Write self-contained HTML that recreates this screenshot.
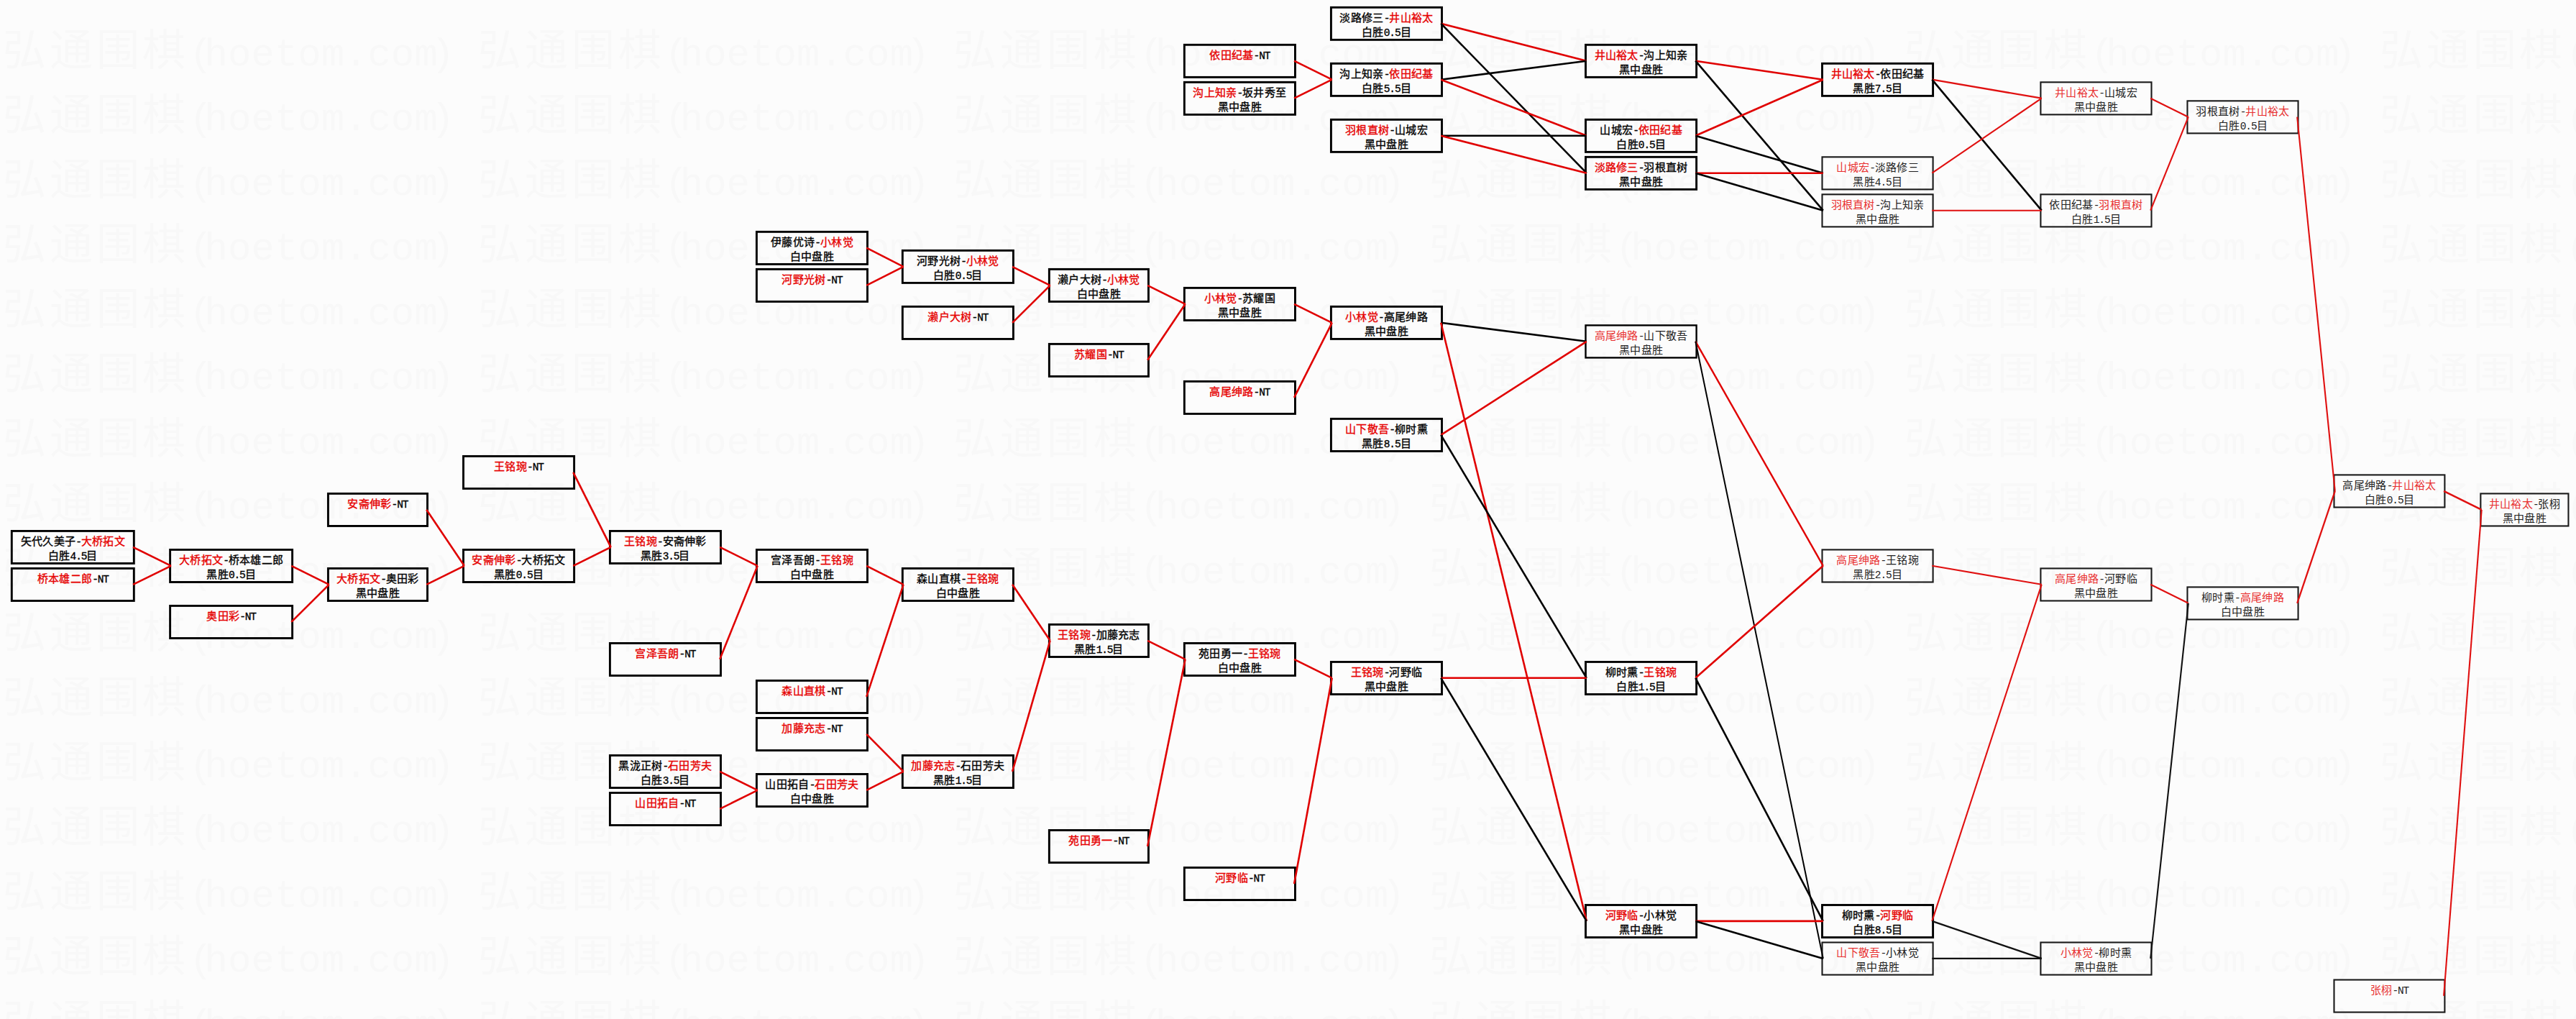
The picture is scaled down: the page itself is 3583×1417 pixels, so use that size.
<!DOCTYPE html>
<html lang="zh-CN"><head><meta charset="utf-8"><title>bracket</title>
<style>
html,body{margin:0;padding:0;}
body{width:3583px;height:1417px;overflow:hidden;background:#fcfcfc;position:relative;font-family:"Liberation Serif",serif;}
#wm{position:absolute;left:0;top:0;width:3583px;height:1417px;overflow:hidden;color:#f8f8f8;font-size:60px;letter-spacing:4.8px;line-height:70px;white-space:nowrap;}
#wm div{position:absolute;left:4px;white-space:nowrap;height:70px;}
#wm span.u{display:inline-block;width:661.2px;}
#wm span.l{font-family:"Liberation Mono",monospace;font-size:54px;letter-spacing:0;}
#wm span.m{margin-left:-11px;}
#wm span.p{margin-left:-9px;}
svg{position:absolute;left:0;top:0;}
.b{position:absolute;text-align:center;font-size:15px;letter-spacing:.3px;line-height:20px;color:#000;white-space:nowrap;height:40px;}
.b{-webkit-text-stroke:.35px currentColor;}
.b i{-webkit-text-stroke:.35px #e60000;}
.b.t,.b.t i{-webkit-text-stroke:0;}
.b.t{color:#222;}
.b i{font-style:normal;color:#e60000;}
.b.t i{color:#e83030;}
.b u{font-family:"Liberation Mono",monospace;font-size:14.5px;letter-spacing:-1.1px;line-height:0;text-decoration:none;}
</style></head><body>
<div id="wm">
<div style="top:35.5px"><span class="u">弘通围棋<span class="l">(<span class="m">hoetom.com</span><span class="p">)</span></span></span><span class="u">弘通围棋<span class="l">(<span class="m">hoetom.com</span><span class="p">)</span></span></span><span class="u">弘通围棋<span class="l">(<span class="m">hoetom.com</span><span class="p">)</span></span></span><span class="u">弘通围棋<span class="l">(<span class="m">hoetom.com</span><span class="p">)</span></span></span><span class="u">弘通围棋<span class="l">(<span class="m">hoetom.com</span><span class="p">)</span></span></span><span class="u">弘通围棋<span class="l">(<span class="m">hoetom.com</span><span class="p">)</span></span></span></div>
<div style="top:125.5px"><span class="u">弘通围棋<span class="l">(<span class="m">hoetom.com</span><span class="p">)</span></span></span><span class="u">弘通围棋<span class="l">(<span class="m">hoetom.com</span><span class="p">)</span></span></span><span class="u">弘通围棋<span class="l">(<span class="m">hoetom.com</span><span class="p">)</span></span></span><span class="u">弘通围棋<span class="l">(<span class="m">hoetom.com</span><span class="p">)</span></span></span><span class="u">弘通围棋<span class="l">(<span class="m">hoetom.com</span><span class="p">)</span></span></span><span class="u">弘通围棋<span class="l">(<span class="m">hoetom.com</span><span class="p">)</span></span></span></div>
<div style="top:215.5px"><span class="u">弘通围棋<span class="l">(<span class="m">hoetom.com</span><span class="p">)</span></span></span><span class="u">弘通围棋<span class="l">(<span class="m">hoetom.com</span><span class="p">)</span></span></span><span class="u">弘通围棋<span class="l">(<span class="m">hoetom.com</span><span class="p">)</span></span></span><span class="u">弘通围棋<span class="l">(<span class="m">hoetom.com</span><span class="p">)</span></span></span><span class="u">弘通围棋<span class="l">(<span class="m">hoetom.com</span><span class="p">)</span></span></span><span class="u">弘通围棋<span class="l">(<span class="m">hoetom.com</span><span class="p">)</span></span></span></div>
<div style="top:305.5px"><span class="u">弘通围棋<span class="l">(<span class="m">hoetom.com</span><span class="p">)</span></span></span><span class="u">弘通围棋<span class="l">(<span class="m">hoetom.com</span><span class="p">)</span></span></span><span class="u">弘通围棋<span class="l">(<span class="m">hoetom.com</span><span class="p">)</span></span></span><span class="u">弘通围棋<span class="l">(<span class="m">hoetom.com</span><span class="p">)</span></span></span><span class="u">弘通围棋<span class="l">(<span class="m">hoetom.com</span><span class="p">)</span></span></span><span class="u">弘通围棋<span class="l">(<span class="m">hoetom.com</span><span class="p">)</span></span></span></div>
<div style="top:395.5px"><span class="u">弘通围棋<span class="l">(<span class="m">hoetom.com</span><span class="p">)</span></span></span><span class="u">弘通围棋<span class="l">(<span class="m">hoetom.com</span><span class="p">)</span></span></span><span class="u">弘通围棋<span class="l">(<span class="m">hoetom.com</span><span class="p">)</span></span></span><span class="u">弘通围棋<span class="l">(<span class="m">hoetom.com</span><span class="p">)</span></span></span><span class="u">弘通围棋<span class="l">(<span class="m">hoetom.com</span><span class="p">)</span></span></span><span class="u">弘通围棋<span class="l">(<span class="m">hoetom.com</span><span class="p">)</span></span></span></div>
<div style="top:485.5px"><span class="u">弘通围棋<span class="l">(<span class="m">hoetom.com</span><span class="p">)</span></span></span><span class="u">弘通围棋<span class="l">(<span class="m">hoetom.com</span><span class="p">)</span></span></span><span class="u">弘通围棋<span class="l">(<span class="m">hoetom.com</span><span class="p">)</span></span></span><span class="u">弘通围棋<span class="l">(<span class="m">hoetom.com</span><span class="p">)</span></span></span><span class="u">弘通围棋<span class="l">(<span class="m">hoetom.com</span><span class="p">)</span></span></span><span class="u">弘通围棋<span class="l">(<span class="m">hoetom.com</span><span class="p">)</span></span></span></div>
<div style="top:575.5px"><span class="u">弘通围棋<span class="l">(<span class="m">hoetom.com</span><span class="p">)</span></span></span><span class="u">弘通围棋<span class="l">(<span class="m">hoetom.com</span><span class="p">)</span></span></span><span class="u">弘通围棋<span class="l">(<span class="m">hoetom.com</span><span class="p">)</span></span></span><span class="u">弘通围棋<span class="l">(<span class="m">hoetom.com</span><span class="p">)</span></span></span><span class="u">弘通围棋<span class="l">(<span class="m">hoetom.com</span><span class="p">)</span></span></span><span class="u">弘通围棋<span class="l">(<span class="m">hoetom.com</span><span class="p">)</span></span></span></div>
<div style="top:665.5px"><span class="u">弘通围棋<span class="l">(<span class="m">hoetom.com</span><span class="p">)</span></span></span><span class="u">弘通围棋<span class="l">(<span class="m">hoetom.com</span><span class="p">)</span></span></span><span class="u">弘通围棋<span class="l">(<span class="m">hoetom.com</span><span class="p">)</span></span></span><span class="u">弘通围棋<span class="l">(<span class="m">hoetom.com</span><span class="p">)</span></span></span><span class="u">弘通围棋<span class="l">(<span class="m">hoetom.com</span><span class="p">)</span></span></span><span class="u">弘通围棋<span class="l">(<span class="m">hoetom.com</span><span class="p">)</span></span></span></div>
<div style="top:755.5px"><span class="u">弘通围棋<span class="l">(<span class="m">hoetom.com</span><span class="p">)</span></span></span><span class="u">弘通围棋<span class="l">(<span class="m">hoetom.com</span><span class="p">)</span></span></span><span class="u">弘通围棋<span class="l">(<span class="m">hoetom.com</span><span class="p">)</span></span></span><span class="u">弘通围棋<span class="l">(<span class="m">hoetom.com</span><span class="p">)</span></span></span><span class="u">弘通围棋<span class="l">(<span class="m">hoetom.com</span><span class="p">)</span></span></span><span class="u">弘通围棋<span class="l">(<span class="m">hoetom.com</span><span class="p">)</span></span></span></div>
<div style="top:845.5px"><span class="u">弘通围棋<span class="l">(<span class="m">hoetom.com</span><span class="p">)</span></span></span><span class="u">弘通围棋<span class="l">(<span class="m">hoetom.com</span><span class="p">)</span></span></span><span class="u">弘通围棋<span class="l">(<span class="m">hoetom.com</span><span class="p">)</span></span></span><span class="u">弘通围棋<span class="l">(<span class="m">hoetom.com</span><span class="p">)</span></span></span><span class="u">弘通围棋<span class="l">(<span class="m">hoetom.com</span><span class="p">)</span></span></span><span class="u">弘通围棋<span class="l">(<span class="m">hoetom.com</span><span class="p">)</span></span></span></div>
<div style="top:935.5px"><span class="u">弘通围棋<span class="l">(<span class="m">hoetom.com</span><span class="p">)</span></span></span><span class="u">弘通围棋<span class="l">(<span class="m">hoetom.com</span><span class="p">)</span></span></span><span class="u">弘通围棋<span class="l">(<span class="m">hoetom.com</span><span class="p">)</span></span></span><span class="u">弘通围棋<span class="l">(<span class="m">hoetom.com</span><span class="p">)</span></span></span><span class="u">弘通围棋<span class="l">(<span class="m">hoetom.com</span><span class="p">)</span></span></span><span class="u">弘通围棋<span class="l">(<span class="m">hoetom.com</span><span class="p">)</span></span></span></div>
<div style="top:1025.5px"><span class="u">弘通围棋<span class="l">(<span class="m">hoetom.com</span><span class="p">)</span></span></span><span class="u">弘通围棋<span class="l">(<span class="m">hoetom.com</span><span class="p">)</span></span></span><span class="u">弘通围棋<span class="l">(<span class="m">hoetom.com</span><span class="p">)</span></span></span><span class="u">弘通围棋<span class="l">(<span class="m">hoetom.com</span><span class="p">)</span></span></span><span class="u">弘通围棋<span class="l">(<span class="m">hoetom.com</span><span class="p">)</span></span></span><span class="u">弘通围棋<span class="l">(<span class="m">hoetom.com</span><span class="p">)</span></span></span></div>
<div style="top:1115.5px"><span class="u">弘通围棋<span class="l">(<span class="m">hoetom.com</span><span class="p">)</span></span></span><span class="u">弘通围棋<span class="l">(<span class="m">hoetom.com</span><span class="p">)</span></span></span><span class="u">弘通围棋<span class="l">(<span class="m">hoetom.com</span><span class="p">)</span></span></span><span class="u">弘通围棋<span class="l">(<span class="m">hoetom.com</span><span class="p">)</span></span></span><span class="u">弘通围棋<span class="l">(<span class="m">hoetom.com</span><span class="p">)</span></span></span><span class="u">弘通围棋<span class="l">(<span class="m">hoetom.com</span><span class="p">)</span></span></span></div>
<div style="top:1205.5px"><span class="u">弘通围棋<span class="l">(<span class="m">hoetom.com</span><span class="p">)</span></span></span><span class="u">弘通围棋<span class="l">(<span class="m">hoetom.com</span><span class="p">)</span></span></span><span class="u">弘通围棋<span class="l">(<span class="m">hoetom.com</span><span class="p">)</span></span></span><span class="u">弘通围棋<span class="l">(<span class="m">hoetom.com</span><span class="p">)</span></span></span><span class="u">弘通围棋<span class="l">(<span class="m">hoetom.com</span><span class="p">)</span></span></span><span class="u">弘通围棋<span class="l">(<span class="m">hoetom.com</span><span class="p">)</span></span></span></div>
<div style="top:1295.5px"><span class="u">弘通围棋<span class="l">(<span class="m">hoetom.com</span><span class="p">)</span></span></span><span class="u">弘通围棋<span class="l">(<span class="m">hoetom.com</span><span class="p">)</span></span></span><span class="u">弘通围棋<span class="l">(<span class="m">hoetom.com</span><span class="p">)</span></span></span><span class="u">弘通围棋<span class="l">(<span class="m">hoetom.com</span><span class="p">)</span></span></span><span class="u">弘通围棋<span class="l">(<span class="m">hoetom.com</span><span class="p">)</span></span></span><span class="u">弘通围棋<span class="l">(<span class="m">hoetom.com</span><span class="p">)</span></span></span></div>
<div style="top:1385.5px"><span class="u">弘通围棋<span class="l">(<span class="m">hoetom.com</span><span class="p">)</span></span></span><span class="u">弘通围棋<span class="l">(<span class="m">hoetom.com</span><span class="p">)</span></span></span><span class="u">弘通围棋<span class="l">(<span class="m">hoetom.com</span><span class="p">)</span></span></span><span class="u">弘通围棋<span class="l">(<span class="m">hoetom.com</span><span class="p">)</span></span></span><span class="u">弘通围棋<span class="l">(<span class="m">hoetom.com</span><span class="p">)</span></span></span><span class="u">弘通围棋<span class="l">(<span class="m">hoetom.com</span><span class="p">)</span></span></span></div>
<div style="top:1475.5px"><span class="u">弘通围棋<span class="l">(<span class="m">hoetom.com</span><span class="p">)</span></span></span><span class="u">弘通围棋<span class="l">(<span class="m">hoetom.com</span><span class="p">)</span></span></span><span class="u">弘通围棋<span class="l">(<span class="m">hoetom.com</span><span class="p">)</span></span></span><span class="u">弘通围棋<span class="l">(<span class="m">hoetom.com</span><span class="p">)</span></span></span><span class="u">弘通围棋<span class="l">(<span class="m">hoetom.com</span><span class="p">)</span></span></span><span class="u">弘通围棋<span class="l">(<span class="m">hoetom.com</span><span class="p">)</span></span></span></div>
</div>
<svg width="3583" height="1417" viewBox="0 0 3583 1417">
<rect x="16.30" y="738.41" width="170.00" height="45.05" fill="none" stroke="#000" stroke-width="2.9"/>
<rect x="16.30" y="790.42" width="170.00" height="45.05" fill="none" stroke="#000" stroke-width="2.9"/>
<rect x="236.60" y="764.42" width="170.00" height="45.05" fill="none" stroke="#000" stroke-width="2.9"/>
<rect x="236.60" y="842.43" width="170.00" height="45.05" fill="none" stroke="#000" stroke-width="2.9"/>
<rect x="456.40" y="686.40" width="138.10" height="45.05" fill="none" stroke="#000" stroke-width="2.9"/>
<rect x="456.40" y="790.42" width="138.10" height="45.05" fill="none" stroke="#000" stroke-width="2.9"/>
<rect x="644.50" y="634.40" width="154.10" height="45.05" fill="none" stroke="#000" stroke-width="2.9"/>
<rect x="644.50" y="764.42" width="154.10" height="45.05" fill="none" stroke="#000" stroke-width="2.9"/>
<rect x="848.40" y="738.41" width="154.10" height="45.05" fill="none" stroke="#000" stroke-width="2.9"/>
<rect x="848.40" y="894.44" width="154.10" height="45.05" fill="none" stroke="#000" stroke-width="2.9"/>
<rect x="848.40" y="1050.46" width="154.10" height="45.05" fill="none" stroke="#000" stroke-width="2.9"/>
<rect x="848.40" y="1102.47" width="154.10" height="45.05" fill="none" stroke="#000" stroke-width="2.9"/>
<rect x="1052.40" y="322.35" width="154.10" height="45.05" fill="none" stroke="#000" stroke-width="2.9"/>
<rect x="1052.40" y="374.36" width="154.10" height="45.05" fill="none" stroke="#000" stroke-width="2.9"/>
<rect x="1052.40" y="764.42" width="154.10" height="45.05" fill="none" stroke="#000" stroke-width="2.9"/>
<rect x="1052.40" y="946.44" width="154.10" height="45.05" fill="none" stroke="#000" stroke-width="2.9"/>
<rect x="1052.40" y="998.45" width="154.10" height="45.05" fill="none" stroke="#000" stroke-width="2.9"/>
<rect x="1052.40" y="1076.46" width="154.10" height="45.05" fill="none" stroke="#000" stroke-width="2.9"/>
<rect x="1255.35" y="348.35" width="154.10" height="45.05" fill="none" stroke="#000" stroke-width="2.9"/>
<rect x="1255.35" y="426.36" width="154.10" height="45.05" fill="none" stroke="#000" stroke-width="2.9"/>
<rect x="1255.35" y="790.42" width="154.10" height="45.05" fill="none" stroke="#000" stroke-width="2.9"/>
<rect x="1255.35" y="1050.46" width="154.10" height="45.05" fill="none" stroke="#000" stroke-width="2.9"/>
<rect x="1459.35" y="374.36" width="138.10" height="45.05" fill="none" stroke="#000" stroke-width="2.9"/>
<rect x="1459.35" y="478.37" width="138.10" height="45.05" fill="none" stroke="#000" stroke-width="2.9"/>
<rect x="1459.35" y="868.43" width="138.10" height="45.05" fill="none" stroke="#000" stroke-width="2.9"/>
<rect x="1459.35" y="1154.48" width="138.10" height="45.05" fill="none" stroke="#000" stroke-width="2.9"/>
<rect x="1647.35" y="62.31" width="154.10" height="45.05" fill="none" stroke="#000" stroke-width="2.9"/>
<rect x="1647.35" y="114.32" width="154.10" height="45.05" fill="none" stroke="#000" stroke-width="2.9"/>
<rect x="1647.35" y="400.36" width="154.10" height="45.05" fill="none" stroke="#000" stroke-width="2.9"/>
<rect x="1647.35" y="530.38" width="154.10" height="45.05" fill="none" stroke="#000" stroke-width="2.9"/>
<rect x="1647.35" y="894.44" width="154.10" height="45.05" fill="none" stroke="#000" stroke-width="2.9"/>
<rect x="1647.35" y="1206.48" width="154.10" height="45.05" fill="none" stroke="#000" stroke-width="2.9"/>
<rect x="1851.40" y="10.30" width="154.10" height="45.05" fill="none" stroke="#000" stroke-width="2.9"/>
<rect x="1851.40" y="88.31" width="154.10" height="45.05" fill="none" stroke="#000" stroke-width="2.9"/>
<rect x="1851.40" y="166.32" width="154.10" height="45.05" fill="none" stroke="#000" stroke-width="2.9"/>
<rect x="1851.40" y="426.36" width="154.10" height="45.05" fill="none" stroke="#000" stroke-width="2.9"/>
<rect x="1851.40" y="582.39" width="154.10" height="45.05" fill="none" stroke="#000" stroke-width="2.9"/>
<rect x="1851.40" y="920.44" width="154.10" height="45.05" fill="none" stroke="#000" stroke-width="2.9"/>
<rect x="2205.50" y="62.31" width="154.10" height="45.05" fill="none" stroke="#000" stroke-width="2.9"/>
<rect x="2205.50" y="166.32" width="154.10" height="45.05" fill="none" stroke="#000" stroke-width="2.9"/>
<rect x="2205.50" y="218.33" width="154.10" height="45.05" fill="none" stroke="#000" stroke-width="2.9"/>
<rect x="2205.50" y="452.37" width="154.10" height="45.05" fill="none" stroke="#000" stroke-width="2.4"/>
<rect x="2205.50" y="920.44" width="154.10" height="45.05" fill="none" stroke="#000" stroke-width="2.9"/>
<rect x="2205.50" y="1258.49" width="154.10" height="45.05" fill="none" stroke="#000" stroke-width="2.9"/>
<rect x="2534.50" y="88.31" width="154.10" height="45.05" fill="none" stroke="#000" stroke-width="2.9"/>
<rect x="2534.50" y="218.33" width="154.10" height="45.05" fill="none" stroke="#1a1a1a" stroke-width="2.1"/>
<rect x="2534.50" y="270.34" width="154.10" height="45.05" fill="none" stroke="#1a1a1a" stroke-width="2.1"/>
<rect x="2534.50" y="764.42" width="154.10" height="45.05" fill="none" stroke="#1a1a1a" stroke-width="2.1"/>
<rect x="2534.50" y="1258.49" width="154.10" height="45.05" fill="none" stroke="#000" stroke-width="2.9"/>
<rect x="2534.50" y="1310.50" width="154.10" height="45.05" fill="none" stroke="#1a1a1a" stroke-width="2.1"/>
<rect x="2838.40" y="114.32" width="154.10" height="45.05" fill="none" stroke="#1a1a1a" stroke-width="2.1"/>
<rect x="2838.40" y="270.34" width="154.10" height="45.05" fill="none" stroke="#1a1a1a" stroke-width="2.1"/>
<rect x="2838.40" y="790.42" width="154.10" height="45.05" fill="none" stroke="#1a1a1a" stroke-width="2.1"/>
<rect x="2838.40" y="1310.50" width="154.10" height="45.05" fill="none" stroke="#1a1a1a" stroke-width="2.1"/>
<rect x="3042.45" y="140.32" width="154.10" height="45.05" fill="none" stroke="#1a1a1a" stroke-width="2.1"/>
<rect x="3042.45" y="816.42" width="154.10" height="45.05" fill="none" stroke="#1a1a1a" stroke-width="2.1"/>
<rect x="3246.50" y="660.40" width="153.90" height="45.05" fill="none" stroke="#1a1a1a" stroke-width="2.1"/>
<rect x="3246.50" y="1362.51" width="153.90" height="45.05" fill="none" stroke="#1a1a1a" stroke-width="2.1"/>
<rect x="3450.35" y="686.40" width="122.10" height="45.05" fill="none" stroke="#1a1a1a" stroke-width="2.1"/>
<line x1="185.0" y1="760.8" x2="237.9" y2="786.8" stroke="#e00000" stroke-width="2.6"/>
<line x1="185.0" y1="812.8" x2="237.9" y2="786.8" stroke="#e00000" stroke-width="2.6"/>
<line x1="405.3" y1="786.8" x2="457.7" y2="812.8" stroke="#e00000" stroke-width="2.6"/>
<line x1="405.3" y1="864.8" x2="457.7" y2="812.8" stroke="#e00000" stroke-width="2.6"/>
<line x1="593.2" y1="708.8" x2="645.8" y2="786.8" stroke="#e00000" stroke-width="2.6"/>
<line x1="593.2" y1="812.8" x2="645.8" y2="786.8" stroke="#e00000" stroke-width="2.6"/>
<line x1="797.3" y1="656.8" x2="849.7" y2="760.8" stroke="#e00000" stroke-width="2.6"/>
<line x1="797.3" y1="786.8" x2="849.7" y2="760.8" stroke="#e00000" stroke-width="2.6"/>
<line x1="1001.2" y1="760.8" x2="1053.7" y2="786.8" stroke="#e00000" stroke-width="2.6"/>
<line x1="1001.2" y1="916.8" x2="1053.7" y2="786.8" stroke="#e00000" stroke-width="2.6"/>
<line x1="1001.2" y1="1072.9" x2="1053.7" y2="1098.9" stroke="#e00000" stroke-width="2.6"/>
<line x1="1001.2" y1="1124.9" x2="1053.7" y2="1098.9" stroke="#e00000" stroke-width="2.6"/>
<line x1="1205.2" y1="344.7" x2="1256.6" y2="370.8" stroke="#e00000" stroke-width="2.6"/>
<line x1="1205.2" y1="396.8" x2="1256.6" y2="370.8" stroke="#e00000" stroke-width="2.6"/>
<line x1="1205.2" y1="786.8" x2="1256.6" y2="812.8" stroke="#e00000" stroke-width="2.6"/>
<line x1="1205.2" y1="968.8" x2="1256.6" y2="812.8" stroke="#e00000" stroke-width="2.6"/>
<line x1="1205.2" y1="1020.9" x2="1256.6" y2="1072.9" stroke="#e00000" stroke-width="2.6"/>
<line x1="1205.2" y1="1098.9" x2="1256.6" y2="1072.9" stroke="#e00000" stroke-width="2.6"/>
<line x1="1408.1" y1="370.8" x2="1460.6" y2="396.8" stroke="#e00000" stroke-width="2.6"/>
<line x1="1408.1" y1="448.8" x2="1460.6" y2="396.8" stroke="#e00000" stroke-width="2.6"/>
<line x1="1408.1" y1="812.8" x2="1460.6" y2="890.8" stroke="#e00000" stroke-width="2.6"/>
<line x1="1408.1" y1="1072.9" x2="1460.6" y2="890.8" stroke="#e00000" stroke-width="2.6"/>
<line x1="1596.1" y1="396.8" x2="1648.6" y2="422.8" stroke="#e00000" stroke-width="2.6"/>
<line x1="1596.1" y1="500.8" x2="1648.6" y2="422.8" stroke="#e00000" stroke-width="2.6"/>
<line x1="1596.1" y1="890.8" x2="1648.6" y2="916.8" stroke="#e00000" stroke-width="2.6"/>
<line x1="1596.1" y1="1176.9" x2="1648.6" y2="916.8" stroke="#e00000" stroke-width="2.6"/>
<line x1="1800.1" y1="84.7" x2="1852.7" y2="110.7" stroke="#e00000" stroke-width="2.6"/>
<line x1="1800.1" y1="136.7" x2="1852.7" y2="110.7" stroke="#e00000" stroke-width="2.6"/>
<line x1="1800.1" y1="422.8" x2="1852.7" y2="448.8" stroke="#e00000" stroke-width="2.6"/>
<line x1="1800.1" y1="552.8" x2="1852.7" y2="448.8" stroke="#e00000" stroke-width="2.6"/>
<line x1="1800.1" y1="916.8" x2="1852.7" y2="942.8" stroke="#e00000" stroke-width="2.6"/>
<line x1="1800.1" y1="1228.9" x2="1852.7" y2="942.8" stroke="#e00000" stroke-width="2.6"/>
<line x1="2004.2" y1="32.7" x2="2206.8" y2="84.7" stroke="#e00000" stroke-width="2.6"/>
<line x1="2004.2" y1="32.7" x2="2206.8" y2="240.7" stroke="#000" stroke-width="2.6"/>
<line x1="2004.2" y1="110.7" x2="2206.8" y2="84.7" stroke="#000" stroke-width="2.6"/>
<line x1="2004.2" y1="110.7" x2="2206.8" y2="188.7" stroke="#e00000" stroke-width="2.6"/>
<line x1="2004.2" y1="188.7" x2="2206.8" y2="188.7" stroke="#000" stroke-width="2.6"/>
<line x1="2004.2" y1="188.7" x2="2206.8" y2="240.7" stroke="#e00000" stroke-width="2.6"/>
<line x1="2004.2" y1="448.8" x2="2206.8" y2="474.8" stroke="#000" stroke-width="2.6"/>
<line x1="2004.2" y1="448.8" x2="2206.8" y2="1280.9" stroke="#e00000" stroke-width="2.6"/>
<line x1="2004.2" y1="604.8" x2="2206.8" y2="474.8" stroke="#e00000" stroke-width="2.6"/>
<line x1="2004.2" y1="604.8" x2="2206.8" y2="942.8" stroke="#000" stroke-width="2.6"/>
<line x1="2004.2" y1="942.8" x2="2206.8" y2="942.8" stroke="#e00000" stroke-width="2.6"/>
<line x1="2004.2" y1="942.8" x2="2206.8" y2="1280.9" stroke="#000" stroke-width="2.6"/>
<line x1="2358.3" y1="84.7" x2="2535.8" y2="110.7" stroke="#e00000" stroke-width="2.6"/>
<line x1="2358.3" y1="84.7" x2="2535.8" y2="292.7" stroke="#000" stroke-width="2.6"/>
<line x1="2358.3" y1="188.7" x2="2535.8" y2="110.7" stroke="#e00000" stroke-width="2.6"/>
<line x1="2358.3" y1="188.7" x2="2535.8" y2="240.7" stroke="#000" stroke-width="2.6"/>
<line x1="2358.3" y1="240.7" x2="2535.8" y2="240.7" stroke="#e00000" stroke-width="2.6"/>
<line x1="2358.3" y1="240.7" x2="2535.8" y2="292.7" stroke="#000" stroke-width="2.6"/>
<line x1="2358.3" y1="474.8" x2="2535.8" y2="786.8" stroke="#e00000" stroke-width="2.4"/>
<line x1="2358.3" y1="474.8" x2="2535.8" y2="1332.9" stroke="#000" stroke-width="2.0"/>
<line x1="2358.3" y1="942.8" x2="2535.8" y2="786.8" stroke="#e00000" stroke-width="2.6"/>
<line x1="2358.3" y1="942.8" x2="2535.8" y2="1280.9" stroke="#000" stroke-width="2.6"/>
<line x1="2358.3" y1="1280.9" x2="2535.8" y2="1280.9" stroke="#e00000" stroke-width="2.6"/>
<line x1="2358.3" y1="1280.9" x2="2535.8" y2="1332.9" stroke="#000" stroke-width="2.6"/>
<line x1="2687.3" y1="110.7" x2="2839.7" y2="136.7" stroke="#e01010" stroke-width="2.3"/>
<line x1="2687.3" y1="110.7" x2="2839.7" y2="292.7" stroke="#000" stroke-width="2.6"/>
<line x1="2687.3" y1="240.7" x2="2839.7" y2="136.7" stroke="#e01010" stroke-width="2.1"/>
<line x1="2687.3" y1="292.7" x2="2839.7" y2="292.7" stroke="#e01010" stroke-width="2.1"/>
<line x1="2687.3" y1="786.8" x2="2839.7" y2="812.8" stroke="#e01010" stroke-width="2.1"/>
<line x1="2687.3" y1="1280.9" x2="2839.7" y2="812.8" stroke="#e01010" stroke-width="2.1"/>
<line x1="2687.3" y1="1280.9" x2="2839.7" y2="1332.9" stroke="#111" stroke-width="2.3"/>
<line x1="2687.3" y1="1332.9" x2="2839.7" y2="1332.9" stroke="#111" stroke-width="2.1"/>
<line x1="2991.2" y1="136.7" x2="3043.8" y2="162.7" stroke="#e01010" stroke-width="2.1"/>
<line x1="2991.2" y1="292.7" x2="3043.8" y2="162.7" stroke="#e01010" stroke-width="2.1"/>
<line x1="2991.2" y1="812.8" x2="3043.8" y2="838.8" stroke="#e01010" stroke-width="2.1"/>
<line x1="2991.2" y1="1332.9" x2="3043.8" y2="838.8" stroke="#111" stroke-width="2.1"/>
<line x1="3195.2" y1="162.7" x2="3247.8" y2="682.8" stroke="#e01010" stroke-width="2.1"/>
<line x1="3195.2" y1="838.8" x2="3247.8" y2="682.8" stroke="#e01010" stroke-width="2.3"/>
<line x1="3399.1" y1="682.8" x2="3451.7" y2="708.8" stroke="#e01010" stroke-width="2.6"/>
<line x1="3399.1" y1="1384.9" x2="3451.7" y2="708.8" stroke="#e01010" stroke-width="2.1"/>
</svg>
<div class="b" style="left:14.9px;top:742.8px;width:172.9px">矢代久美子<u>-</u><i>大桥拓文</i><br>白胜<u>4.5</u>目</div>
<div class="b" style="left:14.9px;top:794.8px;width:172.9px"><i>桥本雄二郎</i><u>-NT</u></div>
<div class="b" style="left:235.2px;top:768.8px;width:172.9px"><i>大桥拓文</i><u>-</u>桥本雄二郎<br>黑胜<u>0.5</u>目</div>
<div class="b" style="left:235.2px;top:846.8px;width:172.9px"><i>奥田彩</i><u>-NT</u></div>
<div class="b" style="left:454.9px;top:690.8px;width:141.0px"><i>安斋伸彰</i><u>-NT</u></div>
<div class="b" style="left:454.9px;top:794.8px;width:141.0px"><i>大桥拓文</i><u>-</u>奥田彩<br>黑中盘胜</div>
<div class="b" style="left:643.0px;top:638.8px;width:157.0px"><i>王铭琬</i><u>-NT</u></div>
<div class="b" style="left:643.0px;top:768.8px;width:157.0px"><i>安斋伸彰</i><u>-</u>大桥拓文<br>黑胜<u>0.5</u>目</div>
<div class="b" style="left:846.9px;top:742.8px;width:157.0px"><i>王铭琬</i><u>-</u>安斋伸彰<br>黑胜<u>3.5</u>目</div>
<div class="b" style="left:846.9px;top:898.8px;width:157.0px"><i>宫泽吾朗</i><u>-NT</u></div>
<div class="b" style="left:846.9px;top:1054.9px;width:157.0px">黑泷正树<u>-</u><i>石田芳夫</i><br>白胜<u>3.5</u>目</div>
<div class="b" style="left:846.9px;top:1106.9px;width:157.0px"><i>山田拓自</i><u>-NT</u></div>
<div class="b" style="left:1051.0px;top:326.7px;width:157.0px">伊藤优诗<u>-</u><i>小林觉</i><br>白中盘胜</div>
<div class="b" style="left:1051.0px;top:378.8px;width:157.0px"><i>河野光树</i><u>-NT</u></div>
<div class="b" style="left:1051.0px;top:768.8px;width:157.0px">宫泽吾朗<u>-</u><i>王铭琬</i><br>白中盘胜</div>
<div class="b" style="left:1051.0px;top:950.8px;width:157.0px"><i>森山直棋</i><u>-NT</u></div>
<div class="b" style="left:1051.0px;top:1002.9px;width:157.0px"><i>加藤充志</i><u>-NT</u></div>
<div class="b" style="left:1051.0px;top:1080.9px;width:157.0px">山田拓自<u>-</u><i>石田芳夫</i><br>白中盘胜</div>
<div class="b" style="left:1253.9px;top:352.8px;width:157.0px">河野光树<u>-</u><i>小林觉</i><br>白胜<u>0.5</u>目</div>
<div class="b" style="left:1253.9px;top:430.8px;width:157.0px"><i>濑户大树</i><u>-NT</u></div>
<div class="b" style="left:1253.9px;top:794.8px;width:157.0px">森山直棋<u>-</u><i>王铭琬</i><br>白中盘胜</div>
<div class="b" style="left:1253.9px;top:1054.9px;width:157.0px"><i>加藤充志</i><u>-</u>石田芳夫<br>黑胜<u>1.5</u>目</div>
<div class="b" style="left:1457.9px;top:378.8px;width:141.0px">濑户大树<u>-</u><i>小林觉</i><br>白中盘胜</div>
<div class="b" style="left:1457.9px;top:482.8px;width:141.0px"><i>苏耀国</i><u>-NT</u></div>
<div class="b" style="left:1457.9px;top:872.8px;width:141.0px"><i>王铭琬</i><u>-</u>加藤充志<br>黑胜<u>1.5</u>目</div>
<div class="b" style="left:1457.9px;top:1158.9px;width:141.0px"><i>苑田勇一</i><u>-NT</u></div>
<div class="b" style="left:1645.9px;top:66.7px;width:157.0px"><i>依田纪基</i><u>-NT</u></div>
<div class="b" style="left:1645.9px;top:118.7px;width:157.0px"><i>沟上知亲</i><u>-</u>坂井秀至<br>黑中盘胜</div>
<div class="b" style="left:1645.9px;top:404.8px;width:157.0px"><i>小林觉</i><u>-</u>苏耀国<br>黑中盘胜</div>
<div class="b" style="left:1645.9px;top:534.8px;width:157.0px"><i>高尾绅路</i><u>-NT</u></div>
<div class="b" style="left:1645.9px;top:898.8px;width:157.0px">苑田勇一<u>-</u><i>王铭琬</i><br>白中盘胜</div>
<div class="b" style="left:1645.9px;top:1210.9px;width:157.0px"><i>河野临</i><u>-NT</u></div>
<div class="b" style="left:1850.0px;top:14.7px;width:157.0px">淡路修三<u>-</u><i>井山裕太</i><br>白胜<u>0.5</u>目</div>
<div class="b" style="left:1850.0px;top:92.7px;width:157.0px">沟上知亲<u>-</u><i>依田纪基</i><br>白胜<u>5.5</u>目</div>
<div class="b" style="left:1850.0px;top:170.7px;width:157.0px"><i>羽根直树</i><u>-</u>山城宏<br>黑中盘胜</div>
<div class="b" style="left:1850.0px;top:430.8px;width:157.0px"><i>小林觉</i><u>-</u>高尾绅路<br>黑中盘胜</div>
<div class="b" style="left:1850.0px;top:586.8px;width:157.0px"><i>山下敬吾</i><u>-</u>柳时熏<br>黑胜<u>8.5</u>目</div>
<div class="b" style="left:1850.0px;top:924.8px;width:157.0px"><i>王铭琬</i><u>-</u>河野临<br>黑中盘胜</div>
<div class="b" style="left:2204.1px;top:66.7px;width:157.0px"><i>井山裕太</i><u>-</u>沟上知亲<br>黑中盘胜</div>
<div class="b" style="left:2204.1px;top:170.7px;width:157.0px">山城宏<u>-</u><i>依田纪基</i><br>白胜<u>0.5</u>目</div>
<div class="b" style="left:2204.1px;top:222.7px;width:157.0px"><i>淡路修三</i><u>-</u>羽根直树<br>黑中盘胜</div>
<div class="b t" style="left:2204.1px;top:456.8px;width:157.0px"><i>高尾绅路</i><u>-</u>山下敬吾<br>黑中盘胜</div>
<div class="b" style="left:2204.1px;top:924.8px;width:157.0px">柳时熏<u>-</u><i>王铭琬</i><br>白胜<u>1.5</u>目</div>
<div class="b" style="left:2204.1px;top:1262.9px;width:157.0px"><i>河野临</i><u>-</u>小林觉<br>黑中盘胜</div>
<div class="b" style="left:2533.1px;top:92.7px;width:157.0px"><i>井山裕太</i><u>-</u>依田纪基<br>黑胜<u>7.5</u>目</div>
<div class="b t" style="left:2533.1px;top:222.7px;width:157.0px"><i>山城宏</i><u>-</u>淡路修三<br>黑胜<u>4.5</u>目</div>
<div class="b t" style="left:2533.1px;top:274.7px;width:157.0px"><i>羽根直树</i><u>-</u>沟上知亲<br>黑中盘胜</div>
<div class="b t" style="left:2533.1px;top:768.8px;width:157.0px"><i>高尾绅路</i><u>-</u>王铭琬<br>黑胜<u>2.5</u>目</div>
<div class="b" style="left:2533.1px;top:1262.9px;width:157.0px">柳时熏<u>-</u><i>河野临</i><br>白胜<u>8.5</u>目</div>
<div class="b t" style="left:2533.1px;top:1314.9px;width:157.0px"><i>山下敬吾</i><u>-</u>小林觉<br>黑中盘胜</div>
<div class="b t" style="left:2837.0px;top:118.7px;width:157.0px"><i>井山裕太</i><u>-</u>山城宏<br>黑中盘胜</div>
<div class="b t" style="left:2837.0px;top:274.7px;width:157.0px">依田纪基<u>-</u><i>羽根直树</i><br>白胜<u>1.5</u>目</div>
<div class="b t" style="left:2837.0px;top:794.8px;width:157.0px"><i>高尾绅路</i><u>-</u>河野临<br>黑中盘胜</div>
<div class="b t" style="left:2837.0px;top:1314.9px;width:157.0px"><i>小林觉</i><u>-</u>柳时熏<br>黑中盘胜</div>
<div class="b t" style="left:3041.0px;top:144.7px;width:157.0px">羽根直树<u>-</u><i>井山裕太</i><br>白胜<u>0.5</u>目</div>
<div class="b t" style="left:3041.0px;top:820.8px;width:157.0px">柳时熏<u>-</u><i>高尾绅路</i><br>白中盘胜</div>
<div class="b t" style="left:3245.1px;top:664.8px;width:156.8px">高尾绅路<u>-</u><i>井山裕太</i><br>白胜<u>0.5</u>目</div>
<div class="b t" style="left:3245.1px;top:1366.9px;width:156.8px"><i>张栩</i><u>-NT</u></div>
<div class="b t" style="left:3448.9px;top:690.8px;width:125.0px"><i>井山裕太</i><u>-</u>张栩<br>黑中盘胜</div>
</body></html>
